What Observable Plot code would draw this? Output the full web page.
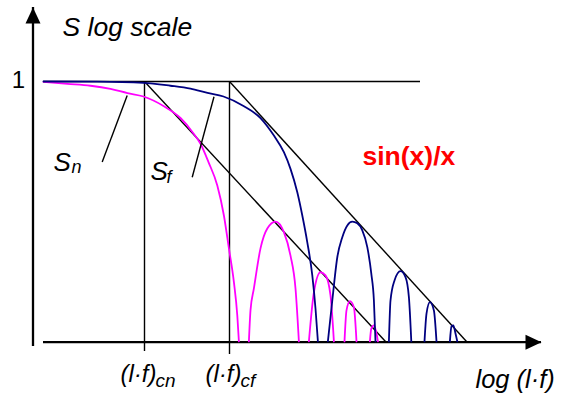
<!DOCTYPE html>
<html>
<head>
<meta charset="utf-8">
<script src="https://cdn.jsdelivr.net/npm/d3@7"></script>
<script src="https://cdn.jsdelivr.net/npm/@observablehq/plot@0.6"></script>
<style>
  html, body { margin: 0; padding: 0; background: #fff; }
  svg { display: block; }
</style>
</head>
<body>
<div id="chart"></div>
<script>
// x = log(l·f) in decades, relative to (l·f)cn ; y = log10(S)
// S_n curve (magenta), null = gap where the curve drops off the plot
const snCurve = [
  [-0.505,-0.002],[-0.385,-0.011],[-0.27,-0.020],[-0.17,-0.035],[-0.085,-0.055],
  [-0.005,-0.071],[0.095,-0.116],[0.18,-0.173],[0.245,-0.246],[0.28,-0.295],
  [0.32,-0.382],[0.364,-0.493],[0.397,-0.635],[0.422,-0.791],[0.447,-0.951],
  [0.464,-1.109],[0.472,-1.232],
  null,
  [0.522,-1.232],[0.53,-1.085],[0.547,-0.981],[0.58,-0.791],[0.614,-0.697],
  [0.655,-0.664],[0.697,-0.714],[0.73,-0.825],[0.755,-0.981],[0.772,-1.232],
  null,
  [0.822,-1.232],[0.847,-0.999],[0.88,-0.904],[0.905,-0.919],[0.93,-1.014],[0.947,-1.232],
  null,
  [1.0,-1.232],[1.01,-1.085],[1.027,-1.041],[1.047,-1.070],[1.06,-1.232],
  null,
  [1.127,-1.232],[1.134,-1.171],[1.147,-1.156],[1.16,-1.194],[1.167,-1.232]
];
// S_f curve (navy)
const sfCurve = [
  [-0.505,0],[-0.235,-0.001],[-0.005,-0.006],[0.13,-0.020],[0.23,-0.034],
  [0.315,-0.054],[0.395,-0.071],[0.495,-0.116],[0.58,-0.173],[0.647,-0.256],
  [0.697,-0.335],[0.73,-0.414],[0.764,-0.525],[0.789,-0.635],[0.814,-0.762],
  [0.839,-0.919],[0.855,-1.076],[0.867,-1.232],
  null,
  [0.917,-1.232],[0.939,-1.038],[0.964,-0.833],[0.989,-0.738],[1.014,-0.682],
  [1.039,-0.664],[1.064,-0.672],[1.089,-0.706],[1.114,-0.785],[1.134,-0.911],
  [1.147,-1.038],[1.155,-1.232],
  null,
  [1.222,-1.232],[1.23,-1.038],[1.25,-0.943],[1.28,-0.899],[1.305,-0.927],[1.322,-1.022],[1.334,-1.232],
  null,
  [1.40,-1.232],[1.41,-1.100],[1.427,-1.046],[1.447,-1.085],[1.46,-1.232],
  null,
  [1.527,-1.232],[1.535,-1.161],[1.544,-1.156],[1.555,-1.194],[1.564,-1.232]
];
// cut-off positions (l·f)cn and (l·f)cf
const cutoffs = [0, 0.425];
const cutoffLabels = ["(l·f)", "(l·f)"];
const cutoffSubs = ["cn", "cf"];
// asymptotes (slope -1 lines from each cut-off down to the axis)
const asymptotes = [
  {x1: 0, y1: 0, x2: 1.205, y2: -1.232},
  {x1: 0.425, y1: 0, x2: 1.61, y2: -1.232}
];
// axis extents
const xAxis = {x1: -0.505, x2: 1.985, y: -1.2355};
const yAxis = {x: -0.5575, y1: -1.256, y2: 0.351};
const unitLine = {x1: -0.505, x2: 1.38, y: 0};

const font = "'Liberation Sans', Arial, Helvetica, sans-serif";
const px = d => d ? d[0] : NaN;
const py = d => d ? d[1] : NaN;

const arrowHead = {
  draw(ctx) {
    ctx.moveTo(0, 0);
    ctx.lineTo(-7.5, 16);
    ctx.lineTo(7.5, 16);
    ctx.closePath();
  }
};

const chart = Plot.plot({
  width: 567,
  height: 396,
  margin: 0,
  style: {background: "#fff", fontFamily: font},
  x: {domain: [-0.72, 2.115], range: [0, 567], axis: null},
  y: {domain: [0.384, -1.493], range: [0, 396], axis: null},
  marks: [
    // axes
    Plot.ruleX([yAxis], {x: "x", y1: "y1", y2: "y2", stroke: "#000", strokeWidth: 2.3}),
    Plot.ruleY([xAxis], {y: "y", x1: "x1", x2: "x2", stroke: "#000", strokeWidth: 2.3}),
    Plot.dot([yAxis], {x: "x", y: "y2", symbol: arrowHead, fill: "#000", stroke: "none", r: 1}),
    Plot.dot([xAxis], {x: "x2", y: "y", symbol: arrowHead, fill: "#000", stroke: "none", r: 1, rotate: 90}),
    // S = 1 line
    Plot.ruleY([unitLine], {y: "y", x1: "x1", x2: "x2", stroke: "#000", strokeWidth: 1.4}),
    // cut-off verticals with ticks below the axis
    Plot.ruleX(cutoffs, {x: d => d, y1: 0, y2: (d, i) => i === 0 ? -1.28 : -1.294, stroke: "#000", strokeWidth: 1.4}),
    // asymptotes
    Plot.link(asymptotes, {x1: "x1", y1: "y1", x2: "x2", y2: "y2", stroke: "#000", strokeWidth: 1.4}),
    // curves
    Plot.line(snCurve, {x: px, y: py, stroke: "#ff00ff", strokeWidth: 1.8, curve: "monotone-x"}),
    Plot.line(sfCurve, {x: px, y: py, stroke: "#000080", strokeWidth: 1.8, curve: "monotone-x"}),
    // leader lines
    Plot.link([{x1: -0.2115, y1: -0.382, x2: -0.0865, y2: -0.066},
               {x1: 0.2385, y1: -0.454, x2: 0.3475, y2: -0.072}],
      {x1: "x1", y1: "y1", x2: "x2", y2: "y2", stroke: "#000", strokeWidth: 1.4}),
    // labels
    Plot.text(["S log scale"], {x: -0.41, y: 0.218, text: d => d, textAnchor: "start", lineAnchor: "bottom", fontSize: 26.5, fontStyle: "italic", fill: "#000"}),
    Plot.text(["1"], {x: -0.63, y: -0.033, text: d => d, textAnchor: "middle", lineAnchor: "bottom", fontSize: 24, fill: "#000"}),
    Plot.text(["S"], {x: -0.455, y: -0.422, text: d => d, textAnchor: "start", lineAnchor: "bottom", fontSize: 26, fontStyle: "italic", fill: "#000"}),
    Plot.text(["n"], {x: -0.365, y: -0.436, text: d => d, textAnchor: "start", lineAnchor: "bottom", fontSize: 18, fontStyle: "italic", fill: "#000"}),
    Plot.text(["S"], {x: 0.03, y: -0.469, text: d => d, textAnchor: "start", lineAnchor: "bottom", fontSize: 26, fontStyle: "italic", fill: "#000"}),
    Plot.text(["f"], {x: 0.11, y: -0.481, text: d => d, textAnchor: "start", lineAnchor: "bottom", fontSize: 18, fontStyle: "italic", fill: "#000"}),
    Plot.text(["sin(x)/x"], {x: 1.09, y: -0.398, text: d => d, textAnchor: "start", lineAnchor: "bottom", fontSize: 26.5, fontWeight: "bold", fill: "#ff0000"}),
    Plot.text(cutoffLabels, {x: (d, i) => cutoffs[i] - 0.12, y: -1.422, text: d => d, textAnchor: "start", lineAnchor: "bottom", fontSize: 24, fontStyle: "italic", fill: "#000"}),
    Plot.text(cutoffSubs, {x: (d, i) => cutoffs[i] + 0.055, y: -1.45, text: d => d, textAnchor: "start", lineAnchor: "bottom", fontSize: 19, fontStyle: "italic", fill: "#000"}),
    Plot.text(["log (l·f)"], {x: 1.655, y: -1.455, text: d => d, textAnchor: "start", lineAnchor: "bottom", fontSize: 25.5, fontStyle: "italic", fill: "#000"})
  ]
});
document.getElementById("chart").appendChild(chart);
</script>
</body>
</html>
